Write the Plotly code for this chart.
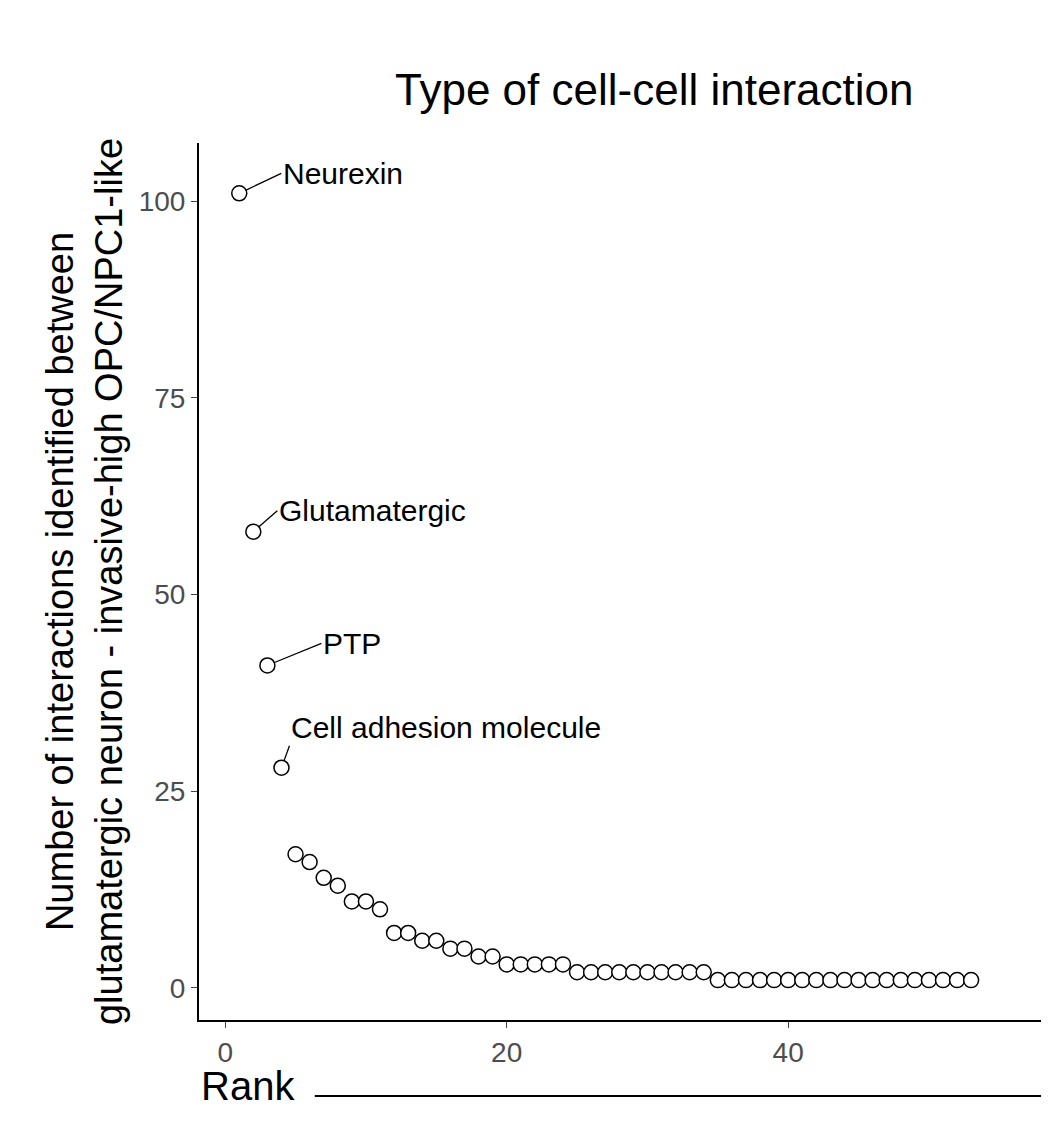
import plotly.graph_objects as go

counts = [101, 58, 41, 28, 17, 16, 14, 13, 11, 11, 10, 7, 7, 6, 6, 5, 5, 4, 4] + [3]*5 + [2]*10 + [1]*19
ranks = list(range(1, len(counts) + 1))
labels = {1: "Neurexin", 2: "Glutamatergic", 3: "PTP", 4: "Cell adhesion molecule"}
offsets = {1: (42, -20), 2: (24, -21), 3: (54, -22), 4: (8, -22)}

fig = go.Figure(go.Scatter(x=ranks, y=counts, mode="markers",
    marker=dict(size=15, color="white", line=dict(color="black", width=1.5)), showlegend=False))

for r, t in labels.items():
    ax, ay = offsets[r]
    fig.add_annotation(x=r, y=counts[r-1], text=t, showarrow=True, arrowhead=0, arrowwidth=1.3,
                       arrowcolor="black", ax=ax, ay=ay, xanchor="left",
                       yanchor="middle" if r != 4 else "bottom",
                       font=dict(size=30, color="black"), standoff=7)

fig.add_annotation(text="Type of cell-cell interaction", xref="paper", yref="paper", x=0.53, y=1.0,
                   yshift=80, showarrow=False, font=dict(size=44, color="black"))
fig.add_annotation(text="Rank", xref="paper", yref="paper", x=0.0, y=0, xanchor="left",
                   yshift=-90, showarrow=False, font=dict(size=40, color="black"))
fig.add_shape(type="line", xref="paper", yref="paper", x0=0.135, x1=1.0, y0=0, y1=0,
              line=dict(color="black", width=2), ysizemode="pixel", yanchor=0)
fig.update_shapes(y0=-76, y1=-76)

fig.update_layout(
    width=1049, height=1138, margin=dict(l=191, r=0, t=135, b=126),
    plot_bgcolor="white", paper_bgcolor="white",
    font=dict(family="Liberation Sans, Arial, sans-serif"),
    xaxis=dict(range=[-1.86, 59.1], tickvals=[0, 20, 40], showgrid=False, zeroline=False,
               showline=True, linecolor="black", linewidth=2, ticks="outside", ticklen=6,
               tickfont=dict(size=28, color="#4d4d4d")),
    yaxis=dict(range=[-4.07, 107.4], tickvals=[0, 25, 50, 75, 100], showgrid=False, zeroline=False,
               showline=True, linecolor="black", linewidth=2, ticks="outside", ticklen=6,
               tickfont=dict(size=28, color="#4d4d4d"),
               title=dict(text="Number of interactions identified between<br>glutamatergic neuron - invasive-high OPC/NPC1-like",
                          font=dict(size=38, color="black"), standoff=4)),
)
fig.write_html("out.html")
